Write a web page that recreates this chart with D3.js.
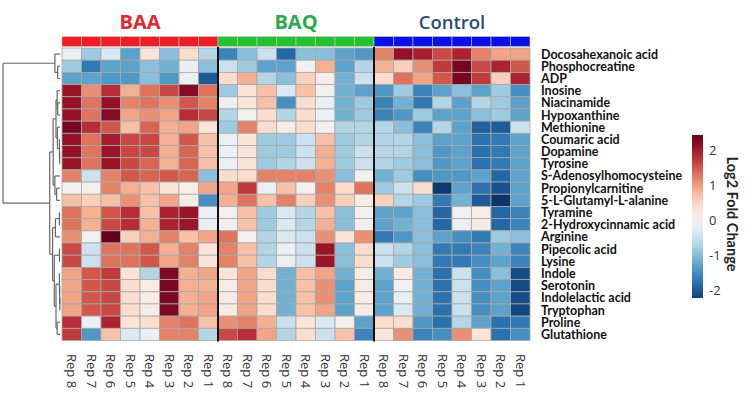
<!DOCTYPE html>
<html><head><meta charset="utf-8">
<script src="https://cdn.jsdelivr.net/npm/d3@7"></script>
<style>body{margin:0;background:#fff}</style>
</head><body><svg id="c" width="752" height="403"></svg>
<script>
const metabolites = ["Docosahexanoic acid","Phosphocreatine","ADP","Inosine","Niacinamide","Hypoxanthine","Methionine","Coumaric acid","Dopamine","Tyrosine","S-Adenosylhomocysteine","Propionylcarnitine","5-L-Glutamyl-L-alanine","Tyramine","2-Hydroxycinnamic acid","Arginine","Pipecolic acid","Lysine","Indole","Serotonin","Indolelactic acid","Tryptophan","Proline","Glutathione"];
const groups = ["BAA","BAQ","Control"];
const reps = ["Rep 8","Rep 7","Rep 6","Rep 5","Rep 4","Rep 3","Rep 2","Rep 1"];
const baa = [
[-0.15,-0.85,-0.35,-1.3,0.3,-1.0,0.4,-0.7],
[-0.85,-1.7,-1.3,-1.3,-1.0,-1.15,-0.15,-1.0],
[-1.3,-1.3,-1.4,-1.4,-1.0,-1.4,-0.15,-2.0],
[2.05,1.1,1.8,0.85,1.3,1.6,2.2,1.3],
[2.1,1.3,2.1,1.2,1.3,1.1,1.5,1.2],
[2.1,1.3,2.2,0.95,1.1,0.95,1.8,1.6],
[2.3,1.8,1.5,0.7,1.4,0.85,0.95,0.3],
[2.1,1.3,1.95,1.6,1.6,0.85,1.5,0.7],
[2.1,1.3,2.05,1.6,1.6,0.85,1.4,0.7],
[2.05,1.3,2.05,1.6,1.4,0.85,1.4,0.7],
[1.2,-0.5,1.2,1.5,1.4,1.5,1.4,-1.0],
[0.0,0.07,1.2,0.85,0.7,0.3,0.07,0.95],
[0.7,0.55,0.7,1.1,0.7,0.95,0.15,-1.5],
[1.3,0.85,1.5,1.8,0.7,1.9,2.05,-0.15],
[1.3,0.85,1.6,1.8,0.85,1.9,2.05,-0.15],
[1.1,0.0,2.45,0.55,0.85,1.2,0.7,0.95],
[1.6,-0.5,1.3,1.3,1.5,0.85,1.2,0.3],
[1.6,-0.5,1.3,1.3,1.5,0.95,1.2,0.3],
[0.95,1.5,1.7,0.3,-0.7,2.25,0.85,0.95],
[0.95,1.5,1.6,0.4,0.15,2.25,0.85,0.85],
[0.95,1.5,1.6,0.4,0.15,2.25,0.85,0.95],
[0.95,1.5,1.6,0.4,0.15,2.25,0.85,0.95],
[1.8,-0.15,1.9,0.3,0.4,1.2,1.3,0.7],
[1.7,-1.4,0.7,-0.35,-0.15,1.2,1.2,-0.7]];
const baq = [
[-1.6,-1.0,-0.5,-1.9,-1.0,-1.0,-1.3,-1.4],
[-0.5,-0.85,-1.3,-1.3,0.0,0.85,-1.3,-0.7],
[0.4,0.85,-0.7,-1.0,0.55,0.15,-1.15,-0.5],
[-0.85,0.3,0.7,-0.35,0.7,0.0,-1.15,-1.3],
[-0.15,0.3,0.7,-1.5,0.4,-0.15,-1.15,-0.85],
[-0.7,0.0,0.4,-0.7,0.4,-0.15,-1.15,-0.85],
[-0.85,1.2,0.4,0.15,0.4,0.0,-0.7,-0.7],
[-0.15,0.3,-0.85,-0.85,-0.5,0.7,-0.85,-0.7],
[-0.15,0.3,-0.85,-0.85,-0.5,0.85,-0.85,-0.5],
[-0.15,0.3,-0.85,-0.7,-0.5,0.85,-0.85,-0.5],
[0.4,0.4,1.2,1.2,1.2,1.1,-1.0,0.0],
[0.95,1.7,-0.15,0.7,0.0,1.2,0.4,1.3],
[0.85,1.3,0.7,1.2,0.55,1.1,0.55,0.15],
[0.0,0.7,-0.85,-0.35,-0.7,0.7,-1.0,0.0],
[0.0,0.7,-0.85,-0.35,-0.7,0.85,-1.0,0.0],
[1.3,0.0,-0.7,-0.35,-0.5,1.1,0.3,1.1],
[1.2,0.7,-0.7,-0.15,-0.5,2.05,-1.0,0.4],
[1.2,0.7,-0.7,-0.15,-0.5,2.05,-1.0,0.4],
[0.3,0.95,0.4,-1.15,0.7,0.95,-1.15,0.15],
[0.15,0.95,0.4,-1.15,0.7,1.1,-1.3,0.15],
[0.15,0.95,0.4,-1.15,0.7,1.1,-1.3,0.15],
[0.15,0.95,0.4,-1.15,0.7,0.95,-1.3,0.15],
[1.1,1.2,0.85,-0.5,0.3,-0.35,0.0,-1.3],
[1.6,1.8,0.95,-0.7,0.4,-0.5,0.7,-1.6]];
const control = [
[1.2,2.1,1.95,1.6,1.9,1.2,0.95,0.95],
[0.85,0.55,1.1,1.7,2.3,1.6,1.9,1.5],
[0.4,1.3,0.95,1.5,2.3,1.7,0.55,1.9],
[-1.4,-0.85,-1.6,-1.3,-1.0,-1.3,-0.85,-1.5],
[-1.6,-1.15,-1.7,-0.7,-1.3,-0.7,-0.85,-1.3],
[-1.6,-1.4,-0.85,-1.3,-1.3,-1.0,-0.85,-1.3],
[-0.7,-1.0,-1.6,-0.7,-1.3,-1.95,-2.0,-0.5],
[-0.7,-0.7,-1.0,-1.3,-1.3,-1.8,-1.7,-1.3],
[-0.7,-0.7,-1.0,-1.4,-1.3,-1.8,-1.7,-1.3],
[-0.7,-0.85,-1.0,-1.4,-1.3,-1.8,-1.7,-1.3],
[-1.15,-0.85,-1.5,-1.4,-1.4,-1.3,-1.9,-1.3],
[-0.85,-0.5,0.4,-2.3,-1.3,-1.8,-2.1,-1.3],
[0.55,-0.7,-0.85,-1.7,-1.15,-2.0,-2.35,-1.3],
[-1.3,-1.3,-1.0,-1.9,0.0,0.15,-1.9,-1.6],
[-1.3,-1.15,-1.0,-1.9,-0.15,0.15,-1.9,-1.6],
[-1.7,-1.4,-1.0,-1.3,-1.5,-1.7,-0.85,-1.0],
[-0.5,-0.7,-1.0,-1.7,-1.7,-1.6,-1.15,-1.6],
[-0.5,-0.85,-1.0,-1.7,-1.7,-1.5,-1.3,-1.6],
[-1.15,0.15,-1.15,-1.8,-0.5,-1.5,-1.0,-2.15],
[-1.3,0.0,-1.15,-1.8,-0.5,-1.5,-1.3,-2.15],
[-1.3,-0.15,-1.15,-1.8,-0.5,-1.5,-1.3,-2.15],
[-1.3,-0.35,-1.15,-1.8,-0.5,-1.5,-1.3,-2.2],
[0.4,0.4,-1.4,-1.8,-0.7,-1.3,-1.8,-1.7],
[0.3,1.1,-1.6,-1.5,1.1,0.3,-1.8,-1.5]];
const legendTicks = [2,1,0,-1,-2];
// dendrogram: [height, child, child]; numbers are row indices
const dendro = [10,
  [0.9, 0, [0.4, 1, 2]],
  [1.8,
    [1.2, [0.7, [0.5, 3, [0.4, 4, 5]], [0.45, 6, [0.1, 7, [0.05, 8, 9]]]], [0.9, 10, [0.6, 11, 12]]],
    [1.3, [0.8, [0.1, 13, 14], 15], [1.0, [0.1, 16, 17], [0.7, [0.1, 18, [0.05, 19, [0.03, 20, 21]]], [0.5, 22, 23]]]]
  ]];

const groupData = {BAA: baa, BAQ: baq, Control: control};
const groupColor = {BAA: "#ee1c25", BAQ: "#22c32e", Control: "#0a10e6"};
const titleColor = {BAA: "#e2262c", BAQ: "#2aa84a", Control: "#2d4a7c"};

const svg = d3.select("#c");
const cols = [];
groups.forEach(g => reps.forEach(r => cols.push({g, r, id: g + "|" + r})));

const x = d3.scaleBand().domain(cols.map(c => c.id)).range([62, 530]);
const y = d3.scaleBand().domain(metabolites).range([48, 340.5]);
const color = d3.scaleSequential(t => d3.interpolateRdBu(t)).domain([2.4, -2.4]);

const cells = [];
groups.forEach(g => groupData[g].forEach((row, i) => row.forEach((v, j) => cells.push({id: g + "|" + reps[j], m: metabolites[i], v}))));

svg.append("g").selectAll("rect").data(cells).join("rect")
  .attr("x", d => x(d.id)).attr("y", d => y(d.m))
  .attr("width", x.bandwidth()).attr("height", y.bandwidth())
  .attr("fill", d => color(d.v)).attr("stroke", "#a8a8a8").attr("stroke-width", 0.8);

// annotation bar
svg.append("g").selectAll("rect").data(cols).join("rect")
  .attr("x", d => x(d.id)).attr("y", 36.5).attr("width", x.bandwidth()).attr("height", 10)
  .attr("fill", d => groupColor[d.g]).attr("stroke", "#c8c8c8").attr("stroke-width", 0.6);

// group separators
groups.slice(1).forEach(g => {
  const xx = x(g + "|" + reps[0]);
  svg.append("line").attr("x1", xx).attr("x2", xx).attr("y1", 47).attr("y2", 341.5)
    .attr("stroke", "#111").attr("stroke-width", 2);
});

// group titles
groups.forEach(g => {
  const x0 = x(g + "|" + reps[0]), x1 = x(g + "|" + reps[7]) + x.bandwidth();
  svg.append("text").attr("x", (x0 + x1) / 2).attr("y", 29).attr("text-anchor", "middle")
    .attr("font-family", "Open Sans, sans-serif").attr("font-size", g === "Control" ? 18.5 : 20)
    .attr("font-weight", g === "Control" ? 600 : 700).attr("fill", titleColor[g]).text(g);
});

// row labels
svg.append("g").selectAll("text").data(metabolites).join("text")
  .attr("x", 541).attr("y", d => y(d) + y.bandwidth() / 2).attr("dy", "0.36em")
  .attr("font-family", "Lato, sans-serif").attr("font-weight", 700).attr("font-size", 12.5)
  .attr("fill", "#111").text(d => d);

// column labels
svg.append("g").selectAll("text").data(cols).join("text")
  .attr("transform", d => `translate(${x(d.id) + x.bandwidth() / 2},354) rotate(90)`)
  .attr("dy", "0.35em").attr("font-family", "Open Sans, sans-serif").attr("font-size", 13)
  .attr("fill", "#333").text(d => d.r);

// dendrogram
function build(n) { return typeof n === "number" ? {leaf: n, h: 0} : {h: n[0], children: n.slice(1).map(build)}; }
const root = d3.hierarchy(build(dendro), d => d.children);
const hx = d3.scaleLinear().domain([0, 10]).range([60, 3]);
root.eachAfter(n => {
  n.yy = n.children ? d3.mean(n.children, c => c.yy) : y(metabolites[n.data.leaf]) + y.bandwidth() / 2;
});
const dg = svg.append("g").attr("fill", "none").attr("stroke", "#666").attr("stroke-width", 1.2);
root.each(n => {
  if (!n.children) return;
  const nx = hx(n.data.h);
  dg.append("line").attr("x1", nx).attr("x2", nx)
    .attr("y1", d3.min(n.children, c => c.yy)).attr("y2", d3.max(n.children, c => c.yy));
  n.children.forEach(c => dg.append("line").attr("x1", nx).attr("x2", hx(c.data.h)).attr("y1", c.yy).attr("y2", c.yy));
});

// legend
const ly = d3.scaleLinear().domain([2, -2]).range([150, 290]);
const lmax = 2.43, lmin = -2.23;
const defs = svg.append("defs");
const grad = defs.append("linearGradient").attr("id", "lg").attr("x1", 0).attr("x2", 0).attr("y1", 0).attr("y2", 1);
d3.range(0, 1.0001, 0.05).forEach(t => grad.append("stop").attr("offset", t).attr("stop-color", color(lmax + (lmin - lmax) * t)));
svg.append("rect").attr("x", 692).attr("y", ly(lmax)).attr("width", 11).attr("height", ly(lmin) - ly(lmax)).attr("fill", "url(#lg)");
svg.append("g").selectAll("text").data(legendTicks).join("text")
  .attr("x", 709).attr("y", d => ly(d)).attr("dy", "0.35em")
  .attr("font-family", "Open Sans, sans-serif").attr("font-size", 13).attr("fill", "#333").text(d => d);
svg.append("text").attr("transform", "translate(732,214) rotate(90)").attr("text-anchor", "middle")
  .attr("dy", "0.35em").attr("font-family", "Lato, sans-serif").attr("font-weight", 700).attr("font-size", 14.5)
  .attr("fill", "#222").text("Log2 Fold Change");
</script></body></html>
